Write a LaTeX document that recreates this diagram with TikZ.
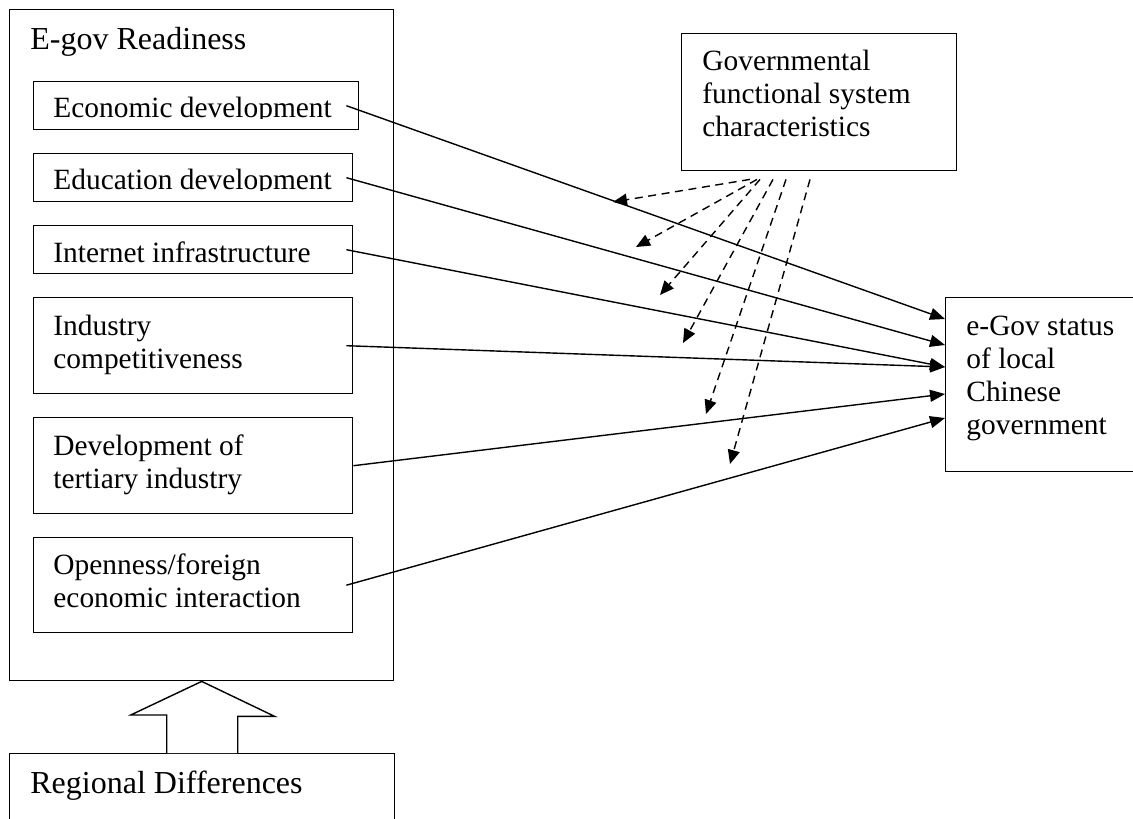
\documentclass[tikz,border=0pt]{standalone}
\usepackage{fontspec}
\setmainfont{Liberation Serif}
\usetikzlibrary{arrows.meta}

\tikzset{
    box/.style={draw, line width=0.7pt, rectangle, inner sep=0pt, anchor=north west},
    txt/.style={inner sep=0pt, anchor=base west, align=left, font=\fontsize{14.7}{16.5}\selectfont},
    bigtxt/.style={inner sep=0pt, anchor=base west, font=\fontsize{16}{18}\selectfont},
    arr/.style={line width=0.7pt, -{Triangle[length=7.5pt, width=6pt]}},
    dasharr/.style={line width=0.7pt, dash pattern=on 4pt off 2.8pt, -{Triangle[length=7pt, width=6pt]}},
    fatarrow/.style={draw, line width=0.7pt, fill=white}
}

\begin{document}
\begin{tikzpicture}[x=0.5pt, y=-0.5pt]
    \clip (0,0) rectangle (1133,818);
    \fill[white] (0,0) rectangle (1133,818);

    % left frame with its factors
    \node[box, minimum width=192pt, minimum height=335.5pt] (ready) at (9,9) {};
    \node[bigtxt] (readytitle) at (30,50) {E-gov Readiness};

    \node[box, minimum width=162.5pt, minimum height=24pt] (econ) at (33,81) {};
    \node[box, minimum width=159.5pt, minimum height=24pt] (educ) at (33,153) {};
    \node[box, minimum width=159.5pt, minimum height=24pt] (inet) at (33,225) {};
    \node[box, minimum width=159.5pt, minimum height=48pt] (indus) at (33,297) {};
    \node[box, minimum width=159.5pt, minimum height=48pt] (tert) at (33,417) {};
    \node[box, minimum width=159.5pt, minimum height=47.5pt] (open) at (33,537) {};

    \begin{scope}
        \clip (33,81) rectangle (358,119);
        \node[txt] (econtext) at (53,118) {Economic development};
    \end{scope}
    \begin{scope}
        \clip (33,153) rectangle (352,191);
        \node[txt] (eductext) at (53,190) {Education development};
    \end{scope}
    \node[txt] (inettext) at (53,262) {Internet infrastructure};
    \node[txt] (industext) at (53,368) {Industry\\competitiveness};
    \node[txt] (terttext) at (53,488) {Development of\\tertiary industry};
    \node[txt] (opentext) at (53,607) {Openness/foreign\\economic interaction};

    % right side
    \node[box, minimum width=137.5pt, minimum height=68.5pt] (gov) at (681,33) {};
    \node[txt] (govtext) at (702,137) {Governmental\\functional system\\characteristics};

    \node[box, minimum width=110pt, minimum height=87pt] (egov) at (945,297) {};
    \node[txt] (egovtext) at (966,434) {e-Gov status\\of local\\Chinese\\government};

    % bottom
    \node[box, minimum width=192.5pt, minimum height=50pt] (region) at (9,753) {};
    \node[bigtxt] (regiontext) at (30,793) {Regional Differences};

    \draw[fatarrow] ([xshift=-17.75pt]region.north) -- ++(0,-38) -- ++(-36,0)
        -- (ready.south) -- ++(73,35) -- ++(-37,0) -- ([xshift=17.75pt]region.north);

    % factor arrows
    \draw[arr] ([xshift=-6.5pt]econ.east) -- ([yshift=-11pt]egov.north west);
    \draw[arr] ([xshift=-3.5pt]educ.east) -- ([yshift=-24pt]egov.north west);
    \draw[arr] ([xshift=-3.5pt]inet.east) -- ([yshift=-35pt]egov.north west);
    \draw[arr] ([xshift=-3.5pt]indus.east) -- ([yshift=-35pt]egov.north west);
    \draw[arr] (tert.east) -- ([yshift=-48.5pt]egov.north west);
    \draw[arr] ([xshift=-3.5pt]open.east) -- ([yshift=-60.5pt]egov.north west);

    % moderating arrows
    \coordinate (tipa) at (613,202);
    \coordinate (tipb) at (636,247);
    \coordinate (tipc) at (660,295);
    \coordinate (tipd) at (683,343);
    \coordinate (tipe) at (706,414);
    \coordinate (tipf) at (730,464);
    \draw[dasharr] ([shift={(69,8)}]gov.south west) -- (tipa);
    \draw[dasharr] ([shift={(76,8)}]gov.south west) -- (tipb);
    \draw[dasharr] ([shift={(79,8)}]gov.south west) -- (tipc);
    \draw[dasharr] ([shift={(92,8)}]gov.south west) -- (tipd);
    \draw[dasharr] ([shift={(105,8)}]gov.south west) -- (tipe);
    \draw[dasharr] ([shift={(129,8)}]gov.south west) -- (tipf);
\end{tikzpicture}
\end{document}
